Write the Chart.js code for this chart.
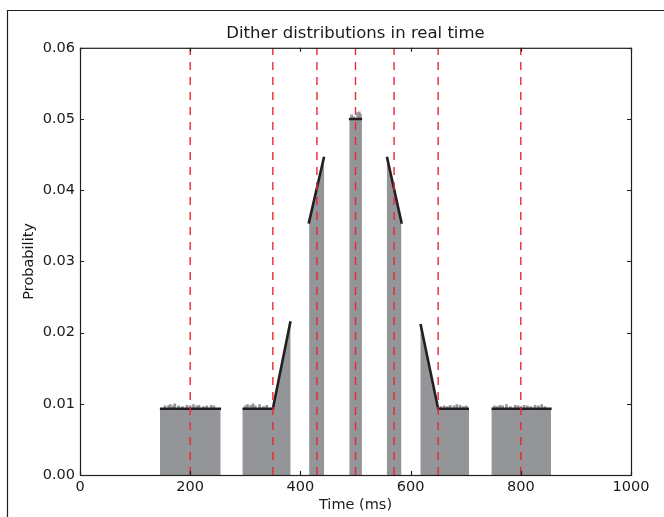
<!DOCTYPE html>
<html>
<head>
<meta charset="utf-8">
<script src="https://cdn.jsdelivr.net/npm/chart.js@4/dist/chart.umd.min.js"></script>
<style>
html, body { margin: 0; padding: 0; background: #fff; }
</style>
</head>
<body>
<canvas id="graph" width="664" height="517"></canvas>
<script>
// measured histogram outline (time in ms, probability)
var histTime = [145, 145, 255, 255,
    295, 295, 350, 382, 382,
    416, 416, 443, 443,
    489, 489, 511, 511,
    557, 557, 583, 583,
    618, 618, 650, 706, 706,
    747, 747, 855, 855];
var histProb = [0, 0.0093, 0.0093, 0,
    0, 0.0093, 0.0093, 0.0215, 0,
    0, 0.0355, 0.0445, 0,
    0, 0.0500, 0.0500, 0,
    0, 0.0445, 0.0355, 0,
    0, 0.0210, 0.0093, 0.0093, 0,
    0, 0.0093, 0.0093, 0];

// small sampling bumps on top of the flat parts
var noiseTime = [154, 161, 164, 169, 172, 179, 186, 194, 200, 206, 212, 216, 224, 230, 238, 243,
    300, 304, 310, 314, 318, 326, 333, 339,
    493, 497, 504, 507, 509,
    655, 661, 667, 672, 679, 684, 690, 696, 701,
    752, 757, 762, 767, 774, 781, 790, 795, 800, 806, 812, 818, 826, 832, 838, 844];
var noiseProb = [0.0097, 0.0098, 0.0099, 0.0097, 0.0100, 0.0097, 0.0096, 0.0098, 0.0097, 0.0099, 0.0097, 0.0098, 0.0096, 0.0097, 0.0098, 0.0097,
    0.0097, 0.0099, 0.0098, 0.0100, 0.0097, 0.0099, 0.0096, 0.0098,
    0.0506, 0.0503, 0.0509, 0.0510, 0.0507,
    0.0096, 0.0097, 0.0096, 0.0098, 0.0097, 0.0099, 0.0098, 0.0096, 0.0097,
    0.0097, 0.0096, 0.0098, 0.0097, 0.0099, 0.0096, 0.0098, 0.0097, 0.0096, 0.0098, 0.0097, 0.0096, 0.0098, 0.0097, 0.0099, 0.0096];

// theoretical distributions, null = gap between pieces
var theoryTime = [145, 256, null, 295, 350, 382, null, 415, 443, null, 488, 512, null,
    557, 584, null, 618, 650, 706, null, 747, 856];
var theoryProb = [0.0093, 0.0093, null, 0.0093, 0.0093, 0.0216, null, 0.0353, 0.0447, null, 0.0500, 0.0500, null,
    0.0447, 0.0353, null, 0.0212, 0.0093, 0.0093, null, 0.0093, 0.0093];

var markerTimes = [200, 350, 430, 500, 570, 650, 800];

var xTicks = [0, 200, 400, 600, 800, 1000];
var yTicks = [0, 0.01, 0.02, 0.03, 0.04, 0.05, 0.06];

function pairs(xs, ys) {
    var out = [];
    for (var i = 0; i < xs.length; i++) {
        out.push({ x: xs[i], y: ys[i] });
    }
    return out;
}

var markerData = [];
markerTimes.forEach(function (t) {
    markerData.push({ x: t, y: 0 }, { x: t, y: 0.06 }, { x: t, y: null });
});

var font = 'DejaVu Sans';
var ink = '#231f20';
var textInk = '#1a1a1a';
var grey = 'rgb(147,149,152)';

var frame = {
    id: 'frame',
    afterDraw: function (chart) {
        var c = chart.ctx, a = chart.chartArea;
        var xs = chart.scales.x, ys = chart.scales.y;
        c.save();
        c.strokeStyle = ink;
        c.lineWidth = 1.2;
        // figure edge
        c.beginPath();
        c.moveTo(7.5, 517);
        c.lineTo(7.5, 10.5);
        c.lineTo(664, 10.5);
        c.stroke();
        // axes box
        c.strokeRect(a.left + 0.5, a.top + 0.5, a.right - a.left, a.bottom - a.top);
        // inward ticks
        c.beginPath();
        xTicks.forEach(function (v) {
            var px = Math.round(xs.getPixelForValue(v)) + 0.5;
            c.moveTo(px, a.bottom); c.lineTo(px, a.bottom - 4);
            c.moveTo(px, a.top); c.lineTo(px, a.top + 4);
        });
        yTicks.forEach(function (v) {
            var py = Math.round(ys.getPixelForValue(v)) + 0.5;
            c.moveTo(a.left, py); c.lineTo(a.left + 4, py);
            c.moveTo(a.right, py); c.lineTo(a.right - 4, py);
        });
        c.stroke();
        c.restore();
    }
};

var ctx = document.getElementById('graph').getContext('2d');

var ditherChart = new Chart(ctx, {
    type: 'line',
    data: {
        datasets: [
            {
                label: 'markers',
                data: markerData,
                borderColor: 'rgb(232,40,50)',
                borderWidth: 1.4,
                borderDash: [8, 7],
                pointRadius: 0,
                spanGaps: false,
                order: 0
            },
            {
                label: 'theory',
                data: pairs(theoryTime, theoryProb),
                borderColor: ink,
                borderWidth: 2.6,
                pointRadius: 0,
                spanGaps: false,
                order: 1
            },
            {
                type: 'bar',
                label: 'noise',
                data: pairs(noiseTime, noiseProb),
                backgroundColor: grey,
                barThickness: 2,
                order: 2
            },
            {
                label: 'histogram',
                data: pairs(histTime, histProb),
                borderWidth: 0,
                borderColor: grey,
                backgroundColor: grey,
                fill: 'origin',
                pointRadius: 0,
                tension: 0,
                order: 3
            }
        ]
    },
    options: {
        responsive: false,
        animation: false,
        layout: { padding: { left: 0, right: 33, top: 0, bottom: 0 } },
        plugins: {
            legend: { display: false },
            tooltip: { enabled: false },
            title: {
                display: true,
                fullSize: false,
                text: 'Dither distributions in real time',
                color: textInk,
                font: { family: font, size: 16.5, weight: 'normal' },
                padding: { top: 24, bottom: 4 }
            }
        },
        scales: {
            x: {
                type: 'linear',
                min: 0,
                max: 1000,
                offset: false,
                afterFit: function (s) { s.height = 42; },
                grid: { display: false, drawTicks: false },
                border: { display: false },
                ticks: {
                    stepSize: 200,
                    padding: 4,
                    color: textInk,
                    font: { family: font, size: 14.5 },
                    callback: function (v) { return String(v); }
                },
                title: {
                    display: true,
                    text: 'Time (ms)',
                    color: textInk,
                    font: { family: font, size: 14.5 },
                    padding: { top: 0, bottom: 3 }
                }
            },
            y: {
                min: 0,
                max: 0.06,
                afterFit: function (s) { s.width = 80; },
                grid: { display: false, drawTicks: false },
                border: { display: false },
                ticks: {
                    stepSize: 0.01,
                    padding: 5,
                    color: textInk,
                    font: { family: font, size: 14.5 },
                    callback: function (v) { return v.toFixed(2); }
                },
                title: {
                    display: true,
                    text: 'Probability',
                    color: textInk,
                    font: { family: font, size: 14.5 },
                    padding: { top: 21, bottom: 0 }
                }
            }
        }
    },
    plugins: [frame]
});
</script>
</body>
</html>
